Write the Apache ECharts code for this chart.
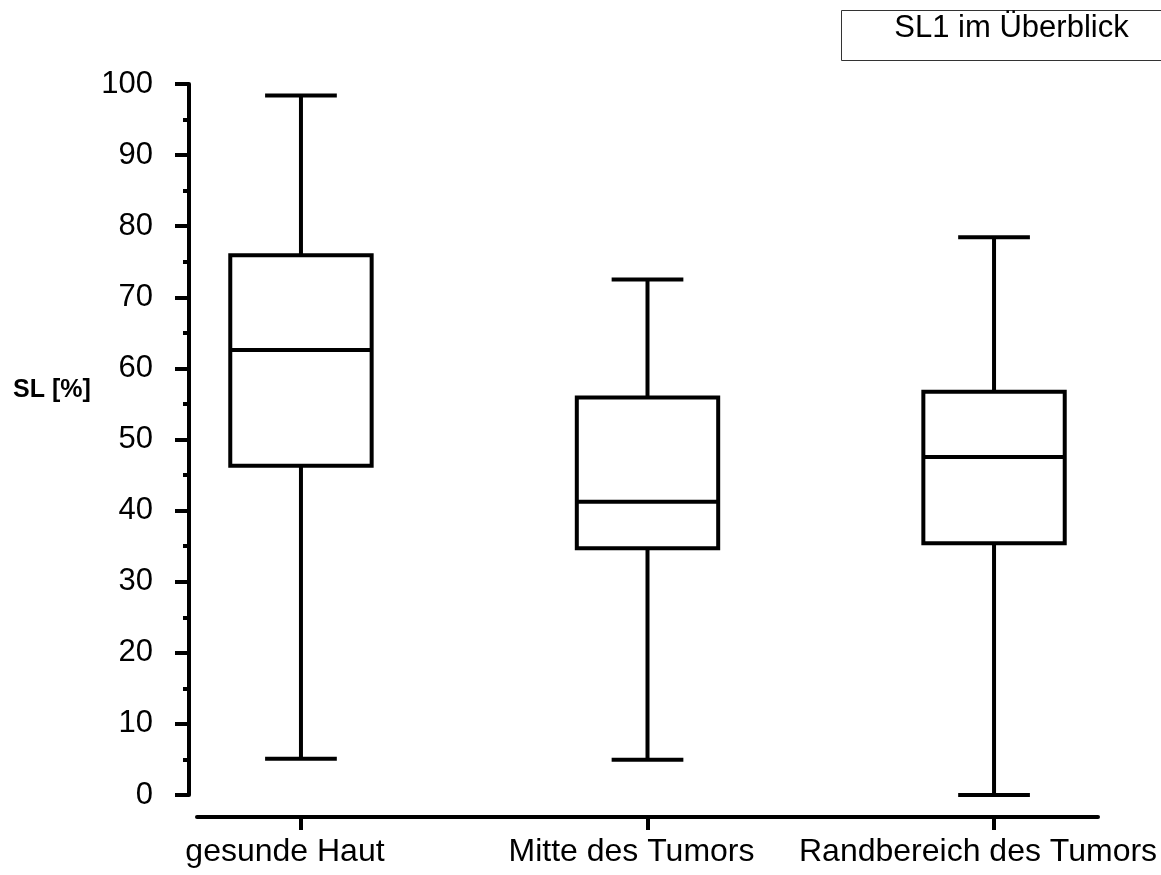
<!DOCTYPE html>
<html>
<head>
<meta charset="utf-8">
<script src="https://cdn.jsdelivr.net/npm/echarts@6/dist/echarts.min.js"></script>
<style>
  html, body { margin: 0; padding: 0; background: #fff; }
  #chart { width: 1161px; height: 875px; }
</style>
</head>
<body>
<div id="chart"></div>
<script>
// values
const categories = ['gesunde Haut', 'Mitte des Tumors', 'Randbereich des Tumors'];
const mins = [5.1, 4.95, 0];
const q1s = [46.3, 34.7, 35.4];
const medians = [62.6, 41.25, 47.55];
const q3s = [75.9, 55.9, 56.7];
const maxs = [98.4, 72.5, 78.45];
const yTicks = [0, 10, 20, 30, 40, 50, 60, 70, 80, 90, 100];

const FONT = '"Liberation Sans", Arial, sans-serif';
const BOX_W = 0.408;   // in x units
const CAP_W = 0.207;
const LW = 4;

const data = categories.map((c, i) => [i, mins[i], q1s[i], medians[i], q3s[i], maxs[i]]);

const chart = echarts.init(document.getElementById('chart'));

function renderBox(params, api) {
  const x = api.value(0);
  const lo = api.coord([x, api.value(1)]);
  const q1 = api.coord([x, api.value(2)]);
  const med = api.coord([x, api.value(3)]);
  const q3 = api.coord([x, api.value(4)]);
  const hi = api.coord([x, api.value(5)]);
  const hb = api.size([BOX_W, 0])[0] / 2;
  const hc = api.size([CAP_W, 0])[0] / 2;
  const cx = lo[0];
  const st = { stroke: '#000', lineWidth: LW };
  return {
    type: 'group',
    children: [
      { type: 'line', shape: { x1: cx, y1: q3[1], x2: cx, y2: hi[1] }, style: st },
      { type: 'line', shape: { x1: cx, y1: q1[1], x2: cx, y2: lo[1] }, style: st },
      { type: 'line', shape: { x1: cx - hc, y1: hi[1], x2: cx + hc, y2: hi[1] }, style: st },
      { type: 'line', shape: { x1: cx - hc, y1: lo[1], x2: cx + hc, y2: lo[1] }, style: st },
      { type: 'rect', shape: { x: cx - hb, y: q3[1], width: 2 * hb, height: q1[1] - q3[1] },
        style: { fill: '#fff', stroke: '#000', lineWidth: LW } },
      { type: 'line', shape: { x1: cx - hb, y1: med[1], x2: cx + hb, y2: med[1] }, style: st }
    ]
  };
}

const option = {
  backgroundColor: '#fff',
  animation: false,
  grid: { left: 197, right: 63, top: 84, bottom: 80, containLabel: false, outerBoundsMode: 'none' },
  xAxis: {
    type: 'value',
    position: 'bottom',
    min: -0.3,
    max: 2.3,
    offset: 22,
    splitLine: { show: false },
    axisLine: { show: true, onZero: false, lineStyle: { color: '#000', width: LW } },
    axisTick: { show: true, customValues: [0, 1, 2], length: 13, lineStyle: { color: '#000', width: LW } },
    axisLabel: {
      customValues: [0, 1, 2],
      hideOverlap: false,
      formatter: (v) => categories[Math.round(v)] || '',
      color: '#000', fontSize: 32, fontFamily: FONT, lineHeight: 32, margin: 19,
      padding: [0, 32, 0, 0]
    }
  },
  yAxis: {
    type: 'value',
    position: 'left',
    min: 0,
    max: 100,
    interval: 10,
    offset: 8,
    splitLine: { show: false },
    axisLine: { show: true, onZero: false, lineStyle: { color: '#000', width: LW } },
    axisTick: { show: true, length: 14, lineStyle: { color: '#000', width: LW } },
    minorTick: { show: true, splitNumber: 2, length: 6, lineStyle: { color: '#000', width: LW } },
    minorSplitLine: { show: false },
    axisLabel: {
      formatter: (v) => (yTicks.includes(v) ? String(v) : ''),
      color: '#000', fontSize: 31, fontFamily: FONT, margin: 36
    }
  },
  graphic: [
    {
      type: 'rect',
      shape: { x: 841.5, y: 10.5, width: 330, height: 50 },
      style: { fill: 'none', stroke: '#333', lineWidth: 1 }
    },
    {
      type: 'text',
      x: 1011.5, y: 28,
      style: { text: 'SL1 im Überblick', font: '31px ' + FONT, fill: '#000', textAlign: 'center', textVerticalAlign: 'middle' }
    },
    {
      type: 'text',
      x: 52, y: 390,
      style: { text: 'SL [%]', font: 'bold 25px ' + FONT, fill: '#000', textAlign: 'center', textVerticalAlign: 'middle' }
    }
  ],
  series: [
    {
      type: 'custom',
      clip: false,
      renderItem: renderBox,
      encode: { x: 0, y: [1, 2, 3, 4, 5] },
      data: data
    }
  ]
};

chart.setOption(option);
</script>
</body>
</html>
